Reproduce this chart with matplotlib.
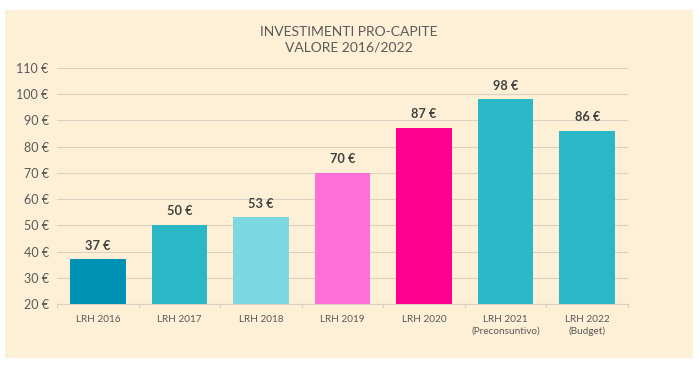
import matplotlib
matplotlib.use('Agg')
import matplotlib.pyplot as plt
from matplotlib.patches import Rectangle

categories = ['LRH 2016', 'LRH 2017', 'LRH 2018', 'LRH 2019', 'LRH 2020',
              'LRH 2021\n(Preconsuntivo)', 'LRH 2022\n(Budget)']
values = [37, 50, 53, 70, 87, 98, 86]
colors = ['#0092B4', '#2BB8C6', '#7DD8E2', '#FF6FD8', '#FF0090', '#2BB8C6', '#2BB8C6']
yticks = [20, 30, 40, 50, 60, 70, 80, 90, 100, 110]

plt.rcParams['font.family'] = ['Lato', 'DejaVu Sans']
bg = '#FDF0D6'
grid_c = '#D9D2C3'
text_c = '#595959'

fig = plt.figure(figsize=(7, 3.68), dpi=100)
fig.patch.set_facecolor('white')
# beige panel behind everything
fig.patches.append(Rectangle((5 / 700, 10 / 368), 688 / 700, 348 / 368,
                             transform=fig.transFigure, facecolor=bg,
                             edgecolor='none', zorder=-10))

ax = fig.add_axes([57 / 700, 1 - 304 / 368, 571 / 700, 236 / 368])
ax.set_facecolor('none')
x = list(range(len(categories)))
bars = ax.bar(x, [v - 20 for v in values], bottom=20, width=0.68, color=colors, zorder=3)
for xi, v in zip(x, values):
    ax.text(xi, v + 3, f'{v} €', ha='center', va='bottom', fontsize=9.2,
            fontweight='bold', color='#404040')

ax.set_xlim(-0.5, len(categories) - 0.5)
ax.set_ylim(20, 110)
ax.set_yticks(yticks)
ax.set_yticklabels([f'{t} €' for t in yticks], fontsize=9, color=text_c)
ax.set_xticks(x)
ax.set_xticklabels(categories, fontsize=7.2, color=text_c, linespacing=1.35)
ax.tick_params(axis='y', length=0, pad=6)
ax.tick_params(axis='x', length=0, pad=8)
# small separators between categories
for b in [i - 0.5 for i in range(len(categories) + 1)]:
    ax.plot([b, b], [20, 18.8], color=grid_c, lw=0.8, clip_on=False)
ax.grid(axis='y', color=grid_c, lw=0.8, zorder=0)
for s in ['top', 'right', 'left']:
    ax.spines[s].set_visible(False)
ax.spines['bottom'].set_color(grid_c)
ax.spines['bottom'].set_linewidth(0.8)

fig.text(349 / 700, 1 - 40 / 368, 'INVESTIMENTI PRO-CAPITE\nVALORE 2016/2022',
         ha='center', va='center', fontsize=10, color=text_c, linespacing=1.3)

fig.savefig('out.png', dpi=100, facecolor='white')
